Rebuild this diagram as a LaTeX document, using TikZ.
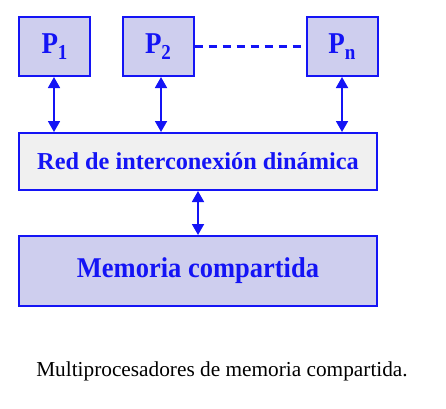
\documentclass[tikz,border=0pt]{standalone}
\usepackage{fontspec}
\setmainfont{Liberation Serif}
\usetikzlibrary{arrows.meta,positioning}
\definecolor{procblue}{RGB}{20,20,245}
\definecolor{procfill}{RGB}{206,206,238}
\definecolor{netfill}{RGB}{240,240,240}
\newcommand{\procsub}[1]{\raisebox{-5pt}{\fontsize{19}{20}\selectfont #1}}
\tikzset{
    %Define standard arrow tip
    >={Triangle[width=12pt,length=11pt]},
    %Define style for processor boxes
    proc/.style={
           rectangle,
           draw=procblue,
           line width=2pt,
           fill=procfill,
           minimum width=71pt,
           minimum height=59pt,
           text=procblue,
           font=\bfseries\fontsize{27}{28}\selectfont},
    %Define style for wide boxes
    wide/.style={
           rectangle,
           draw=procblue,
           line width=2pt,
           minimum width=358pt,
           text=procblue,
           font=\bfseries},
    % Define arrow style
    link/.style={
           <->,
           draw=procblue,
           line width=1.8pt}
}
\begin{document}
\begin{tikzpicture}[x=1pt, y=-1pt]
    \useasboundingbox (0,0) rectangle (446,408);
    \node [proc] (P1) at (54.5,46.5) {\scalebox{1}[1.12]{P\procsub{1}}};
    \node [proc] (P2) at (158,46.5) {\scalebox{1}[1.12]{P\procsub{2}}};
    \node [proc] (Pn) at (342,46.5) {\scalebox{1}[1.12]{P\procsub{n}}};
    \node [wide, fill=netfill, minimum height=57pt, font=\bfseries\fontsize{24.3}{26}\selectfont]
        (red) at (198,161.5) {Red de interconexión dinámica};
    \node [wide, fill=procfill, minimum height=70pt, font=\bfseries\fontsize{26.5}{28}\selectfont]
        (mem) at (198,271) {\scalebox{1}[1.08]{Memoria compartida}};
    \node [font=\fontsize{21.3}{24}\selectfont] (cap) at (222,371) {Multiprocesadores de memoria compartida.};

	\draw [procblue, line width=2.2pt, dash pattern=on 8pt off 6pt] (P2.east) -- (Pn.west);
	\draw [link] (P1.south -| 54,0) -- (red.north -| 54,0);
	\draw [link] (P2.south -| 161,0) -- (red.north -| 161,0);
	\draw [link] (Pn.south -| 342,0) -- (red.north -| 342,0);
	\draw [link] (red.south -| 198,0) -- (mem.north -| 198,0);
\end{tikzpicture}
\end{document}
